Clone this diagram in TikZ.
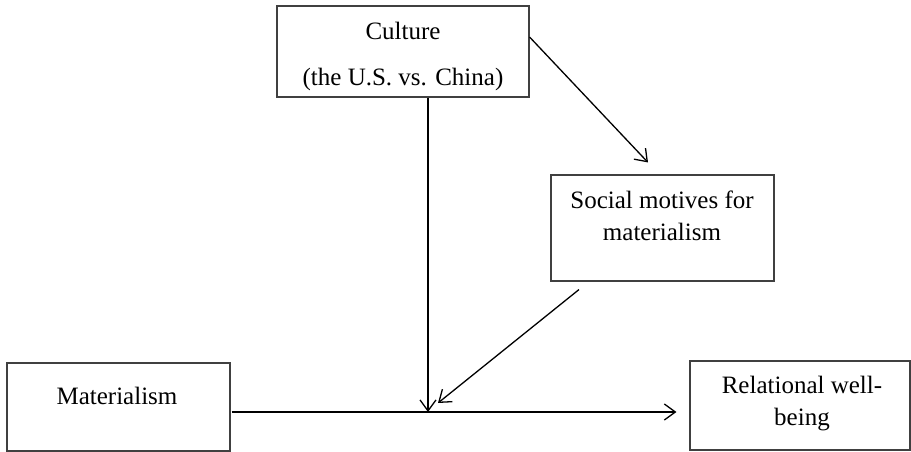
\documentclass[tikz,border=0pt]{standalone}
\usepackage{fontspec}
\setmainfont{Liberation Serif}
\usetikzlibrary{arrows.meta}
\begin{document}
\begin{tikzpicture}[x=1pt,y=-1pt,
  box/.style={draw=black!75, line width=1.1pt, inner sep=0pt, rectangle},
  lbl/.style={anchor=base, inner sep=0pt, font=\fontsize{25}{30}\selectfont},
  arr/.style={line width=1.3pt, -{Straight Barb[length=11pt,width=16pt,line width=1.3pt]}}]
\useasboundingbox (0,0) rectangle (911,452);
% boxes
\node[box, minimum width=252pt, minimum height=91pt] (culture) at (403,51.5) {};
\node[box, minimum width=223pt, minimum height=106pt] (social) at (662.5,228) {};
\node[box, minimum width=223pt, minimum height=88pt] (mat) at (118.5,407) {};
\node[box, minimum width=220pt, minimum height=89pt] (rel) at (800,405.5) {};
% texts
\node[lbl] (culturet1) at (403,40) {Culture};
\node[lbl] (culturet2) at (403,86) {(the U.S. vs. China)};
\node[lbl] (socialt1) at (662,208) {Social motives for};
\node[lbl] (socialt2) at (662,240) {materialism};
\node[lbl] (matt) at (117,404) {Materialism};
\node[lbl] (relt1) at (802,393) {Relational well-};
\node[lbl] (relt2) at (802,425) {being};
% connectors
\coordinate (mid) at (428,412);
\draw[arr] (culture.south -| mid) -- (mid);
\draw[arr] ([yshift=14.5pt]culture.east) -- ([shift={(-14.5pt,12pt)}]social.north);
\draw[arr] ([shift={(-83.5pt,-8pt)}]social.south) -- ([shift={(10pt,9pt)}]mid);
\draw[arr, shorten >=13pt] ([xshift=1pt]mat.east |- mid) -- (rel.west |- mid);
\end{tikzpicture}
\end{document}
